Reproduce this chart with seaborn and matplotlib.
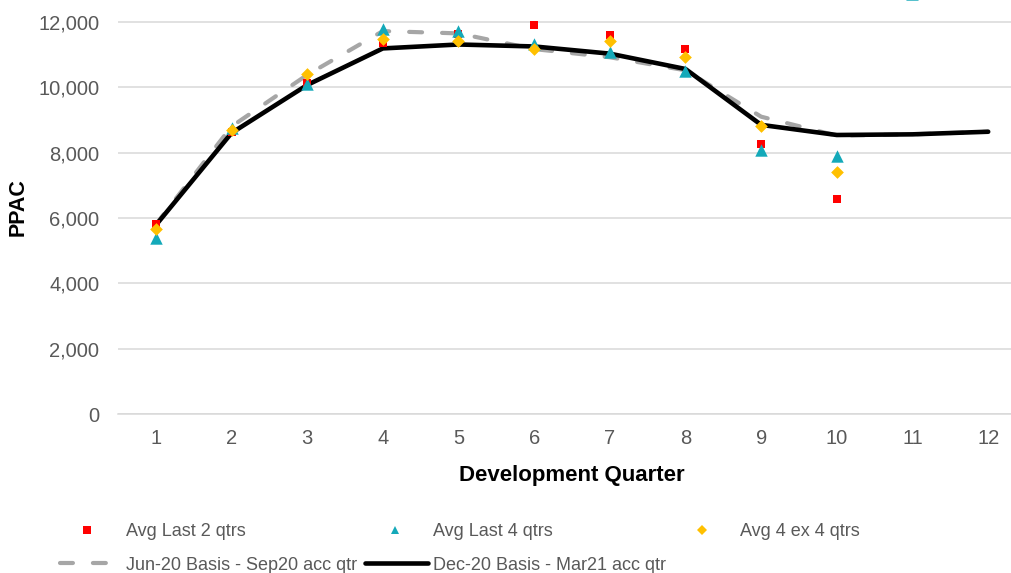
import numpy as np
import matplotlib
matplotlib.use("Agg")
import matplotlib.pyplot as plt
from matplotlib.lines import Line2D
import seaborn as sns

# Development quarters on the x axis
quarters = [1, 2, 3, 4, 5, 6, 7, 8, 9, 10, 11, 12]
quarter_labels = [str(q) for q in quarters]

# Point estimates of PPAC by development quarter
avg_last_2_qtrs = [5830, 8640, 10120, 11350, 11620, 11910, 11600, 11170, 8260, 6590, np.nan, np.nan]
avg_last_4_qtrs = [5400, 8760, 10100, 11780, 11710, 11340, 11070, 10510, 8080, 7900, 12850, np.nan]
avg_4_ex_4_qtrs = [5660, 8680, 10410, 11480, 11430, 11170, 11430, 10920, 8830, 7420, np.nan, np.nan]

# Selected PPAC curves
jun20_basis = [5800, 8800, 10380, 11720, 11650, 11170, 10920, 10520, 9100, 8520, 8560, 8640]
dec20_basis = [5780, 8600, 10070, 11190, 11310, 11250, 11030, 10560, 8850, 8540, 8560, 8640]

y_ticks = [0, 2000, 4000, 6000, 8000, 10000, 12000]

series_labels = ["Avg Last 2 qtrs", "Avg Last 4 qtrs", "Avg 4 ex 4 qtrs",
                 "Jun-20 Basis - Sep20 acc qtr", "Dec-20 Basis - Mar21 acc qtr"]

RED, TEAL, GOLD = "#FF0000", "#14A9B9", "#FFC000"
GREY_DASH, BLACK = "#A6A6A6", "#000000"
GRID, TEXT = "#D9D9D9", "#595959"

sns.set_style("white")
plt.rcParams["font.family"] = ["Liberation Sans", "DejaVu Sans"]

W, H = 1012, 573
fig = plt.figure(figsize=(W / 100, H / 100), dpi=100)
ax = fig.add_axes([118 / W, 159 / H, 908 / W, 414 / H])

# Lines first so the markers sit on top of them
dash = (0, (3.1, 4.8))
sns.lineplot(x=quarters, y=jun20_basis, ax=ax, color=GREY_DASH, linewidth=3.0,
             linestyle=dash, dash_capstyle="round", zorder=2)
sns.lineplot(x=quarters, y=dec20_basis, ax=ax, color=BLACK, linewidth=3.3,
             solid_capstyle="round", zorder=3)

sns.scatterplot(x=quarters, y=avg_last_2_qtrs, ax=ax, marker="s", color=RED,
                s=38, linewidth=0, zorder=4)
sns.scatterplot(x=quarters, y=avg_last_4_qtrs, ax=ax, marker="^", color=TEAL,
                s=80, linewidth=0, zorder=5)
sns.scatterplot(x=quarters, y=avg_4_ex_4_qtrs, ax=ax, marker="D", color=GOLD,
                s=42, linewidth=0, zorder=6)

ax.set_xlim(0.5, 12.5)
ax.set_ylim(0, 12672)
ax.set_xticks(quarters)
ax.set_xticklabels(quarter_labels)
ax.set_yticks(y_ticks)
ax.set_yticklabels([f"{v:,}" for v in y_ticks])
ax.yaxis.grid(True, color=GRID, linewidth=1.1, zorder=0)
ax.xaxis.grid(False)
ax.set_axisbelow(True)
for side in ["top", "right", "left"]:
    ax.spines[side].set_visible(False)
ax.spines["bottom"].set_color(GRID)
ax.spines["bottom"].set_linewidth(1.1)
ax.tick_params(axis="both", length=0, labelsize=14.5, labelcolor=TEXT)
ax.tick_params(axis="y", pad=13.5)
ax.tick_params(axis="x", pad=11)

ax.set_xlabel("Development Quarter", fontsize=16, fontweight="bold", color="black")
ax.xaxis.set_label_coords(0.5, (414 - 475) / 414)
ax.xaxis.label.set_va("center")
ax.set_ylabel("PPAC", fontsize=15.5, fontweight="bold", color="black")
ax.yaxis.set_label_coords((18 - 118) / 908, 0.5)
ax.yaxis.label.set(va="center", ha="center", rotation_mode="default")

# Legend laid out on a fixed grid below the axes
handles = [
    Line2D([], [], marker="s", color=RED, linestyle="none", markersize=5.2, markeredgewidth=0),
    Line2D([], [], marker="^", color=TEAL, linestyle="none", markersize=6, markeredgewidth=0),
    Line2D([], [], marker="D", color=GOLD, linestyle="none", markersize=4.6, markeredgewidth=0),
    Line2D([], [], color=GREY_DASH, linewidth=3.0, linestyle=dash, dash_capstyle="round"),
    Line2D([], [], color=BLACK, linewidth=3.3, solid_capstyle="round"),
]
fs = 13
px = fs * 100 / 72
slots = [  # (left x, centre y, handle length px, gap px)
    (60, 532, 55, 11),
    (367, 532, 55, 11),
    (674, 532, 55, 11),
    (60, 565, 55, 11),
    (365, 565, 63, 5),
]
for h, lab, (x0, yc, hl, gap) in zip(handles, series_labels, slots):
    fig.legend(handles=[h], labels=[lab], loc="center left",
               bbox_to_anchor=(x0 / W, 1 - yc / H), frameon=False,
               borderpad=0, borderaxespad=0, handlelength=hl / px,
               handletextpad=gap / px, fontsize=fs, labelcolor=TEXT)

fig.savefig("out.png", dpi=100)
